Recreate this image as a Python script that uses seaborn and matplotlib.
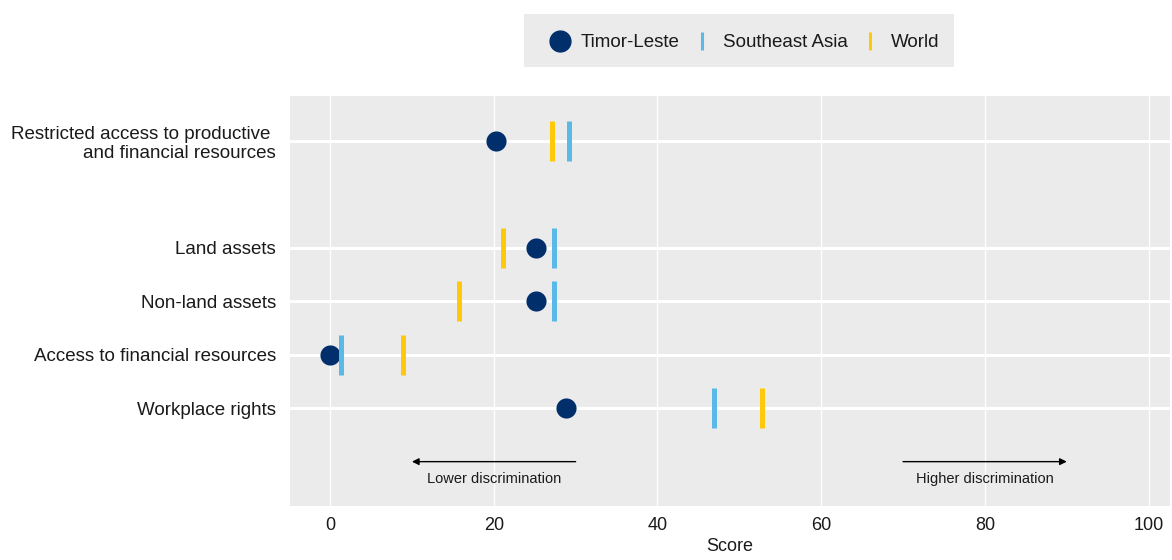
import pandas as pd
import seaborn as sns
import matplotlib.pyplot as plt
from matplotlib.lines import Line2D
from matplotlib.patches import Rectangle

# data
categories = ["Restricted access to productive \nand financial resources",
              "Land assets", "Non-land assets",
              "Access to financial resources", "Workplace rights"]
timor_leste = [20.3, 25.1, 25.1, 0.0, 28.8]
southeast_asia = [29.2, 27.3, 27.3, 1.3, 46.9]
world = [27.1, 21.1, 15.7, 8.9, 52.8]
x_ticks = [0, 20, 40, 60, 80, 100]

# row layout (gap between the summary row and the sub-items)
row_pos = [6, 4, 3, 2, 1]

NAVY = "#002F6C"
BLUE = "#5BB9E8"
GOLD = "#FFC90A"

sns.set_theme(style="darkgrid", rc={
    "axes.facecolor": "#EBEBEB",
    "grid.color": "white",
    "axes.edgecolor": "#EBEBEB",
})
plt.rcParams['font.family'] = ['Liberation Sans', 'DejaVu Sans']

df = pd.DataFrame({"pos": row_pos, "tl": timor_leste,
                   "sea": southeast_asia, "world": world})

fig = plt.figure(figsize=(11.72, 5.6), dpi=100)
ax = fig.add_axes([0.2474, 0.0964, 0.7508, 0.7322])

sns.scatterplot(data=df, x="tl", y="pos", ax=ax, color=NAVY, s=210,
                linewidth=0, zorder=3)
sns.scatterplot(data=df, x="sea", y="pos", ax=ax, color=BLUE, marker="|",
                s=29 ** 2, linewidth=3.6, zorder=4)
sns.scatterplot(data=df, x="world", y="pos", ax=ax, color=GOLD, marker="|",
                s=29 ** 2, linewidth=3.6, zorder=4)

ax.set_xlim(-4.9, 102.6)
ax.set_ylim(-0.83, 6.84)
ax.set_xticks(x_ticks)
ax.set_yticks(row_pos)
ax.set_yticklabels(categories, fontsize=13.5, color="#1a1a1a")
ax.tick_params(axis="y", length=0, pad=10)
ax.tick_params(axis="x", length=0, pad=8, labelsize=13, labelcolor="#1a1a1a")
ax.grid(axis="y", linewidth=2.2, color="white")
ax.grid(axis="x", linewidth=1.0, color="white")
ax.set_xlabel("Score", fontsize=13, labelpad=3, color="#1a1a1a")
ax.set_ylabel("")
for sp in ax.spines.values():
    sp.set_visible(False)

# direction arrows
arrow = dict(arrowstyle="-|>", color="black", lw=1.0, mutation_scale=10,
             shrinkA=0, shrinkB=0)
ax.annotate("", xy=(10, 0), xytext=(30, 0), arrowprops=arrow)
ax.annotate("", xy=(90, 0), xytext=(70, 0), arrowprops=arrow)
ax.text(20, -0.32, "Lower discrimination", ha="center", va="center",
        fontsize=10.5, color="#1a1a1a")
ax.text(80, -0.32, "Higher discrimination", ha="center", va="center",
        fontsize=10.5, color="#1a1a1a")

# legend box background
fig.patches.append(Rectangle((524 / 1172, 1 - 67 / 560), 430 / 1172, 53 / 560,
                             transform=fig.transFigure, facecolor="#EBEBEB",
                             edgecolor="none", zorder=0))

handles = [
    Line2D([], [], marker="o", color=NAVY, linestyle="", markersize=15),
    Line2D([], [], marker="|", color=BLUE, linestyle="", markersize=13,
           markeredgewidth=2.2),
    Line2D([], [], marker="|", color=GOLD, linestyle="", markersize=13,
           markeredgewidth=2.2),
]
leg = fig.legend(handles, ["Timor-Leste", "Southeast Asia", "World"],
                 loc="center left", bbox_to_anchor=(548.75 / 1172, 0.9235),
                 ncol=3, frameon=False, fontsize=13.5, handlelength=1.2,
                 handletextpad=0.5, columnspacing=0.6, borderpad=0,
                 borderaxespad=0)
for t in leg.get_texts():
    t.set_color("#1a1a1a")

fig.savefig("out.png", dpi=100)
